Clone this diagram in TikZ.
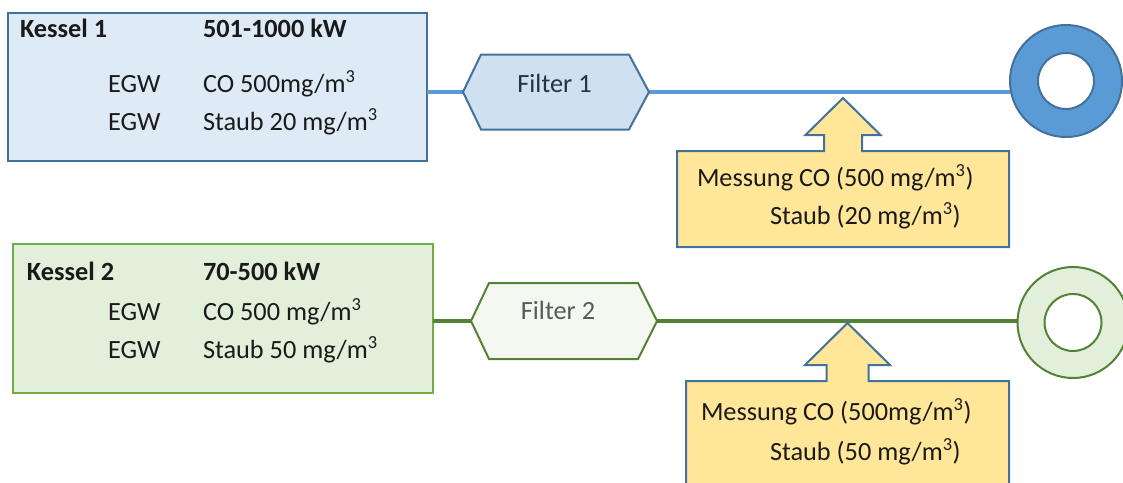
\documentclass[tikz,border=0pt]{standalone}
\usepackage{fontspec}
\setmainfont{Carlito}
\usetikzlibrary{backgrounds}
\definecolor{kfill1}{HTML}{DEEBF7}
\definecolor{bborder}{HTML}{41719C}
\definecolor{hfill1}{HTML}{CFE0F1}
\definecolor{bline}{HTML}{5B9BD5}
\definecolor{kfill2}{HTML}{E2EFDA}
\definecolor{gborder}{HTML}{70AD47}
\definecolor{gdark}{HTML}{548235}
\definecolor{hfill2}{HTML}{F4F8F0}
\definecolor{yfill}{HTML}{FFE699}
\definecolor{tdark}{HTML}{1A1A1A}
\definecolor{tfilter1}{HTML}{233345}
\definecolor{tgray}{HTML}{595959}
\newcommand{\cub}{\textsuperscript{3}}
\begin{document}
\begin{tikzpicture}[x=1pt,y=-1pt,
  every node/.style={inner sep=0pt,outer sep=0pt},
  font=\fontsize{26.3}{31}\selectfont,
  txt/.style={anchor=base west,text=tdark},
  btxt/.style={anchor=base west,text=tdark,font=\fontsize{26.3}{31}\selectfont\bfseries},
  kbox1/.style={draw=bborder,line width=2pt,fill=kfill1},
  kbox2/.style={draw=gborder,line width=2pt,fill=kfill2},
  hexshape/.style={draw=none,fill=none},
  hex1/.style={draw=bborder,line width=2pt,fill=hfill1,line join=miter},
  hex2/.style={draw=gdark,line width=2pt,fill=hfill2,line join=miter},
  conn1/.style={draw=bline,line width=4pt},
  conn2/.style={draw=gdark,line width=4.5pt},
  ring1/.style={circle,draw=bborder,line width=2pt,fill=bline},
  ring2/.style={circle,draw=gdark,line width=2pt,fill=kfill2},
  hole1/.style={circle,draw=bborder,line width=2pt,fill=white},
  hole2/.style={circle,draw=gdark,line width=2pt,fill=white},
  mshape/.style={draw=bborder,line width=2pt,fill=yfill,line join=miter}]
\useasboundingbox (0,0) rectangle (1123,482);
\clip (0,0) rectangle (1123,482);

% boxes
\node[kbox1,minimum width=419,minimum height=148] (k1) at (217.5,87) {};
\node[kbox2,minimum width=420,minimum height=149] (k2) at (223,318.5) {};

% filters (shape holders)
\node[hexshape,minimum width=186,minimum height=75] (f1) at (556,92) {};
\node[hexshape,minimum width=186,minimum height=76] (f2) at (564,321) {};

% rings
\node[ring1,minimum size=112] (r1) at (1066,81) {};
\node[hole1,minimum size=56] (r1h) at (r1.center) {};
\node[ring2,minimum size=111] (r2) at (1073,322.5) {};
\node[hole2,minimum size=57] (r2h) at (r2.center) {};

% connectors
\draw[conn1] (k1.east |- f1.west) -- (f1.west);
\draw[conn1] (f1.east) -- (f1.east -| r1.west);
\draw[conn2] (k2.east |- f2.west) -- (f2.west);
\draw[conn2] (f2.east) -- (f2.east -| r2.west);

% hexagon outlines
\draw[hex1] (f1.west) -- ([xshift=18pt]f1.north west) -- ([xshift=-20pt]f1.north east)
  -- (f1.east) -- ([xshift=-20pt]f1.south east) -- ([xshift=18pt]f1.south west) -- cycle;
\draw[hex2] (f2.west) -- ([xshift=18pt]f2.north west) -- ([xshift=-19pt]f2.north east)
  -- (f2.east) -- ([xshift=-19pt]f2.south east) -- ([xshift=18pt]f2.south west) -- cycle;

% measurement boxes with block arrows
\node[draw=none,minimum width=332,minimum height=96] (m1) at (843,199) {};
\node[draw=none,minimum width=323,minimum height=114] (m2) at (847.5,438) {};
\draw[mshape] (m1.south west) -- (m1.north west) -- ([xshift=-19pt]m1.north)
  -- ++(0,-16) -- ++(-18.5,0) -- ++(37.5,-37) -- ++(37.5,37) -- ++(-18.5,0) -- ++(0,16)
  -- (m1.north east) -- (m1.south east) -- cycle;
\draw[mshape] (m2.south west) -- (m2.north west) -- ([xshift=-21pt]m2.north)
  -- ++(0,-16) -- ++(-21.5,0) -- ++(42.5,-42) -- ++(42.5,42) -- ++(-21.5,0) -- ++(0,16)
  -- (m2.north east) -- (m2.south east) -- cycle;

% texts box 1
\node[btxt] (k1a) at (20,37) {Kessel 1};
\node[btxt] (k1b) at (203,37) {501-1000 kW};
\node[txt] (k1c) at (108,92) {EGW};
\node[txt] (k1d) at (203,92) {CO 500mg/m\cub};
\node[txt] (k1e) at (108,130) {EGW};
\node[txt] (k1f) at (203,130) {Staub 20 mg/m\cub};

% texts box 2
\node[btxt] (k2a) at (27,280) {Kessel 2};
\node[btxt] (k2b) at (203,280) {70-500 kW};
\node[txt] (k2c) at (108,320) {EGW};
\node[txt] (k2d) at (203,320) {CO 500 mg/m\cub};
\node[txt] (k2e) at (108,358) {EGW};
\node[txt] (k2f) at (203,358) {Staub 50 mg/m\cub};

% filter texts
\node[anchor=base,text=tfilter1] (f1t) at (554.5,92) {Filter 1};
\node[anchor=base,text=tgray] (f2t) at (558,319) {Filter 2};

% measurement texts
\node[txt] (m1a) at (697,186) {Messung CO (500 mg/m\cub)};
\node[txt] (m1b) at (770,224) {Staub (20 mg/m\cub)};
\node[txt] (m2a) at (701,420) {Messung CO (500mg/m\cub)};
\node[txt] (m2b) at (770,460) {Staub (50 mg/m\cub)};
\end{tikzpicture}
\end{document}
